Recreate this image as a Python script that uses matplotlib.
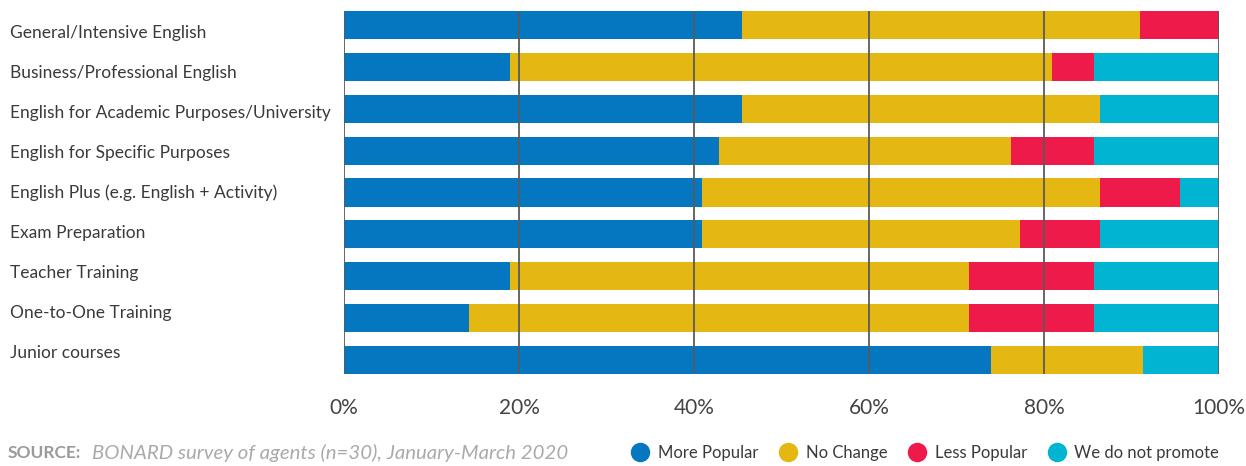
import numpy as np
import matplotlib
matplotlib.use("Agg")
import matplotlib.pyplot as plt
from matplotlib.lines import Line2D

courses = [
    "General/Intensive English",
    "Business/Professional English",
    "English for Academic Purposes/University",
    "English for Specific Purposes",
    "English Plus (e.g. English + Activity)",
    "Exam Preparation",
    "Teacher Training",
    "One-to-One Training",
    "Junior courses",
]
more_popular = [45.5, 19.0, 45.5, 42.9, 40.9, 40.9, 19.0, 14.3, 73.9]
no_change = [45.5, 61.9, 40.9, 33.3, 45.5, 36.4, 52.4, 57.1, 17.4]
less_popular = [9.0, 4.8, 0.0, 9.5, 9.1, 9.1, 14.3, 14.3, 0.0]
not_promoted = [0.0, 14.3, 13.6, 14.3, 4.5, 13.6, 14.3, 14.3, 8.7]

series = ["More Popular", "No Change", "Less Popular", "We do not promote"]
colors = ["#0577c1", "#e5b712", "#ee1a4a", "#00b4d2"]
ticks = [0, 20, 40, 60, 80, 100]

plt.rcParams["font.family"] = ["Lato", "DejaVu Sans"]

W, H = 1246, 466
fig = plt.figure(figsize=(W / 100, H / 100), dpi=100)
ax = fig.add_axes([344 / W, 1 - 374 / H, (1219 - 344) / W, (374 - 11) / H])

bar_h = 0.67
y = np.arange(len(courses))
left = np.zeros(len(courses))
for vals, col in zip([more_popular, no_change, less_popular, not_promoted], colors):
    vals = np.array(vals)
    ax.barh(y, vals, left=left, height=bar_h, color=col, linewidth=0)
    left += vals

ax.set_xlim(0, 100)
ax.set_ylim(len(courses) - 1 + bar_h / 2, -bar_h / 2)
ax.vlines(ticks, *ax.get_ylim(), color="#5a5a5a", linewidth=1.3, zorder=5)

for s in ax.spines.values():
    s.set_visible(False)
ax.set_yticks([])
ax.set_xticks(ticks)
ax.set_xticklabels([f"{t}%" for t in ticks], fontsize=15, color="#444444")
ax.tick_params(axis="x", length=0, pad=17)

# category names sit in their own column to the left of the bars
for i, name in enumerate(courses):
    fig.text(10 / W, 1 - (33 + 40 * i) / H, name, fontsize=12.5, color="#3a3a3a",
             va="center", ha="left")

fig.text(8 / W, 1 - 453 / H, "SOURCE:", fontsize=12.5, color="#9a9a9a",
         fontweight="bold", va="center", ha="left")
fig.text(92 / W, 1 - 453 / H, "BONARD survey of agents (n=30), January-March 2020",
         fontsize=14.7, color="#aaaaaa", style="italic", va="center", ha="left")

handles = [Line2D([], [], marker="o", linestyle="none", markersize=13,
                  markerfacecolor=c, markeredgecolor=c) for c in colors]
fig.legend(handles, series, loc="center right", bbox_to_anchor=(1226 / W, 1 - 453 / H),
           ncol=4, frameon=False, fontsize=12, handletextpad=0.05, columnspacing=0.8,
           labelcolor="#3a3a3a", borderaxespad=0)

fig.savefig("out.png", dpi=100)
